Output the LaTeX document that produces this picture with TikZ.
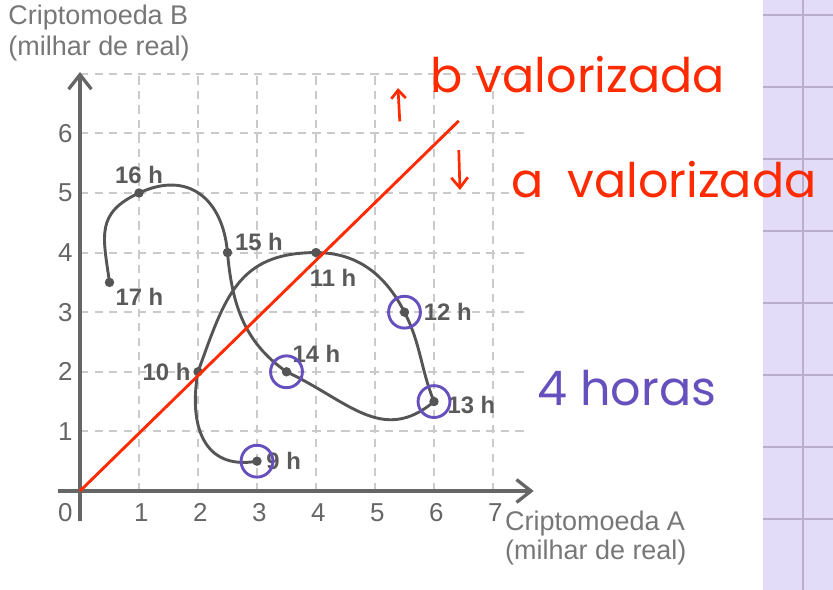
\documentclass[tikz,border=0pt]{standalone}
\usepackage{fontspec}
\setmainfont{Liberation Sans}
\newfontfamily\handfont{Poppins}
\usetikzlibrary{arrows.meta,positioning}

\definecolor{axisgray}{HTML}{666666}
\definecolor{gridgray}{HTML}{CACACA}
\definecolor{curvegray}{HTML}{555555}
\definecolor{labelgray}{HTML}{5A5A5A}
\definecolor{tickgray}{HTML}{666666}
\definecolor{titlegray}{HTML}{777777}
\definecolor{handred}{HTML}{FF2A00}
\definecolor{ringpurple}{HTML}{6650BE}
\definecolor{panelfill}{HTML}{E3DCF8}
\definecolor{panelline}{HTML}{B9AFCB}

\begin{document}
\begin{tikzpicture}[x=1cm,y=1.0102cm
    , every node/.style={inner sep=1pt}
    , gridline/.style={draw=gridgray,line width=0.9pt,dash pattern=on 4pt off 3pt}
    , axisline/.style={draw=axisgray,line width=1.6pt,-{Straight Barb[length=7pt,width=11pt]}}
    , dot/.style={circle,fill=curvegray,inner sep=0pt,minimum size=1.6mm}
    , hour/.style={text=labelgray,font=\fontsize{11.5}{13}\selectfont\bfseries}
    , tick/.style={text=tickgray,font=\fontsize{12.5}{14}\selectfont}
    , title/.style={text=titlegray,font=\fontsize{13}{15}\selectfont,anchor=west,inner sep=0pt}
    , hand/.style={font=\fontsize{23}{26}\selectfont\handfont}
    , ring/.style={circle,draw=ringpurple,line width=1.4pt,minimum size=5.4mm,inner sep=0pt}
]
    \useasboundingbox (-1.356,-1.661) rectangle (12.763,8.238);

    % Notebook margin.
    \fill[panelfill] (11.576,-1.661) rectangle (12.763,8.238);
    \draw[panelline,line width=1pt] (12.254,-1.661) -- (12.254,8.238);
    \foreach \k in {0,...,7}
        \draw[panelline,line width=1pt] (11.576,7.987-1.208*\k) -- (12.763,7.987-1.208*\k);

    % Grid and axes.
    \foreach \x in {1,...,7}
        \draw[gridline] (\x,0) -- (\x,7);
    \foreach \y in {1,...,7}
        \draw[gridline] (0,\y) -- (7.6,\y);

    \coordinate (O) at (0,0);
    \coordinate (xfrom) at (-0.38,0);
    \coordinate (xto) at (7.69,0);
    \coordinate (yfrom) at (0,-0.5);
    \coordinate (yto) at (0,7.03);
    \draw[axisline] (xfrom) -- (xto);
    \draw[axisline] (yfrom) -- (yto);

    \foreach \t in {1,...,7}
        \node[tick] (xt\t) at (\t+0.04,-0.36) {\t};
    \foreach \t in {1,...,6}
        \node[tick] (yt\t) at (-0.25,\t) {\t};
    \node[tick] (xt0) at (-0.25,-0.36) {0};

    \node[title] (titleB) at (-1.22,7.94) {Criptomoeda B};
    \node[title] (unitB) at (-1.22,7.43) {(milhar de real)};
    \node[title] (titleA) at (7.2,-0.55) {Criptomoeda A};
    \node[title] (unitA) at (7.2,-1.04) {(milhar de real)};

    % Hourly prices.
    \node[dot] (p9) at (3,0.5) {};
    \node[dot] (p10) at (2,2) {};
    \node[dot] (p11) at (4,4) {};
    \node[dot] (p12) at (5.5,3) {};
    \node[dot] (p13) at (6,1.5) {};
    \node[dot] (p14) at (3.5,2) {};
    \node[dot] (p15) at (2.5,4) {};
    \node[dot] (p16) at (1,5) {};
    \node[dot] (p17) at (0.5,3.5) {};

    \draw[curvegray,line width=1.4pt]
        (p9.center) to[out=190,in=260,looseness=1.3] (p10.center)
        to[out=70,in=180,looseness=1.2] (p11.center)
        to[out=0,in=117] (p12.center)
        to[out=-63,in=112] (p13.center)
        to[out=220,in=-25,looseness=1.15] (p14.center)
        to[out=145,in=-85] (p15.center)
        to[out=95,in=25,looseness=1.3] (p16.center)
        to[out=205,in=98,looseness=1.3] (p17.center);

    \node[hour,right=0.3mm of p9] (l9) {9 h};
    \node[hour,left=0mm of p10] (l10) {10 h};
    \node[hour,below=1.5mm of p11,xshift=2.9mm] (l11) {11 h};
    \node[hour,right=2mm of p12] (l12) {12 h};
    \node[hour,right=1mm of p13,yshift=-0.6mm] (l13) {13 h};
    \node[hour,above right=0.5mm and 0mm of p14] (l14) {14 h};
    \node[hour,right=0mm of p15,yshift=1.8mm] (l15) {15 h};
    \node[hour,above=0.3mm of p16] (l16) {16 h};
    \node[hour,below right=0mm and 0mm of p17] (l17) {17 h};

    % Red diagonal.
    \coordinate (diagend) at (6.42,6.21);
    \draw[handred,line width=1.4pt] (O) -- (diagend);

    % Notes.
    \coordinate (upfrom) at (5.42,6.2);
    \coordinate (upto) at (5.39,6.76);
    \draw[handred,line width=1.3pt,-{Straight Barb[length=4pt,width=7pt]}] (upfrom) -- (upto);
    \node[hand,text=handred] (bnote) at (8.44,6.98) {b valorizada};

    \coordinate (downfrom) at (6.42,5.72);
    \coordinate (downto) at (6.44,5.05);
    \draw[handred,line width=1.3pt,-{Straight Barb[length=5pt,width=8pt]}] (downfrom) -- (downto);
    \node[hand,text=handred] (anote) at (9.9,5.22) {a\hspace{0.5em}valorizada};

    \foreach \p in {9,12,13,14}
        \node[ring] (r\p) at (p\p) {};
    \node[hand,text=ringpurple] (hours) at (9.27,1.73) {4 horas};

\end{tikzpicture}
\end{document}
